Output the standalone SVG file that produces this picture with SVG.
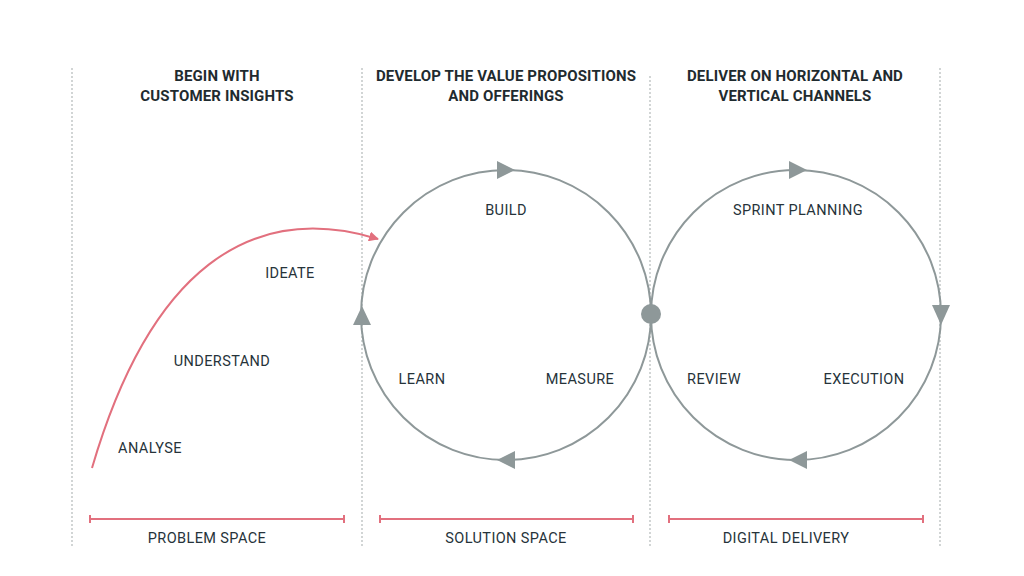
<svg xmlns="http://www.w3.org/2000/svg" width="1024" height="576" viewBox="0 0 1024 576">
<style>
.bg{fill:#ffffff}
.div{stroke:#b4b9ba;stroke-width:1.2;stroke-dasharray:2 2;fill:none}
.ring{stroke:#8e9899;stroke-width:2;fill:none}
.tri{fill:#8e9899}
.pink{stroke:#e2707e;stroke-width:2;fill:none}
.h{font-family:Roboto,"Liberation Sans",sans-serif;font-weight:700;font-size:15px;fill:#1f2b2f;text-anchor:middle;letter-spacing:0.15px}
.t{font-family:Roboto,"Liberation Sans",sans-serif;font-size:14.5px;fill:#26333a;text-anchor:middle;letter-spacing:0.4px}
</style>
<defs>
<marker id="pa" viewBox="0 0 10 10" refX="9" refY="5" markerWidth="5" markerHeight="5" orient="auto" markerUnits="strokeWidth">
<path d="M0,0 L10,5 L0,10 z" fill="#e2707e"/>
</marker>
</defs>
<rect class="bg" width="1024" height="576"/>
<g id="dividers">
<line class="div" x1="72" y1="68" x2="72" y2="546"/>
<line class="div" x1="362" y1="68" x2="362" y2="546"/>
<line class="div" x1="650" y1="76" x2="650" y2="546"/>
<line class="div" x1="940" y1="68" x2="940" y2="546"/>
</g>
<g id="headers">
<text class="h" x="217" y="81">BEGIN WITH</text>
<text class="h" x="217" y="101">CUSTOMER INSIGHTS</text>
<text class="h" x="506" y="81">DEVELOP THE VALUE PROPOSITIONS</text>
<text class="h" x="506" y="101">AND OFFERINGS</text>
<text class="h" x="795" y="81">DELIVER ON HORIZONTAL AND</text>
<text class="h" x="795" y="101">VERTICAL CHANNELS</text>
</g>
<g id="solution-cycle">
<circle class="ring" cx="506" cy="315" r="145"/>
<path class="tri" d="M515,170 L497,161 L497,179 z"/>
<path class="tri" d="M362,306 L353,325 L371,325 z"/>
<path class="tri" d="M497,460 L515,451 L515,469 z"/>
<text class="t" x="506" y="215">BUILD</text>
<text class="t" x="580" y="384">MEASURE</text>
<text class="t" x="422" y="384">LEARN</text>
</g>
<g id="delivery-cycle">
<circle class="ring" cx="796" cy="315" r="145"/>
<path class="tri" d="M807,170 L789,161 L789,179 z"/>
<path class="tri" d="M941,325 L932,305 L950,305 z"/>
<path class="tri" d="M789,460 L807,451 L807,469 z"/>
<text class="t" x="798" y="215">SPRINT PLANNING</text>
<text class="t" x="864" y="384">EXECUTION</text>
<text class="t" x="714" y="384">REVIEW</text>
</g>
<g id="junction">
<circle cx="651" cy="314" r="10" fill="#8e9899"/>
</g>
<g id="connectors">
<path class="pink" d="M92,468 C150,270 250,200 378,239" marker-end="url(#pa)"/>
</g>
<g id="problem-labels">
<text class="t" x="290" y="278">IDEATE</text>
<text class="t" x="222" y="366">UNDERSTAND</text>
<text class="t" x="150" y="453">ANALYSE</text>
</g>
<g id="spaces">
<path class="pink" d="M90,519 H344 M90,515 V523 M344,515 V523" stroke-width="1.6"/>
<path class="pink" d="M380,519 H633 M380,515 V523 M633,515 V523" stroke-width="1.6"/>
<path class="pink" d="M669,519 H923 M669,515 V523 M923,515 V523" stroke-width="1.6"/>
<text class="t" x="207" y="543">PROBLEM SPACE</text>
<text class="t" x="506" y="543">SOLUTION SPACE</text>
<text class="t" x="786" y="543">DIGITAL DELIVERY</text>
</g>
</svg>
